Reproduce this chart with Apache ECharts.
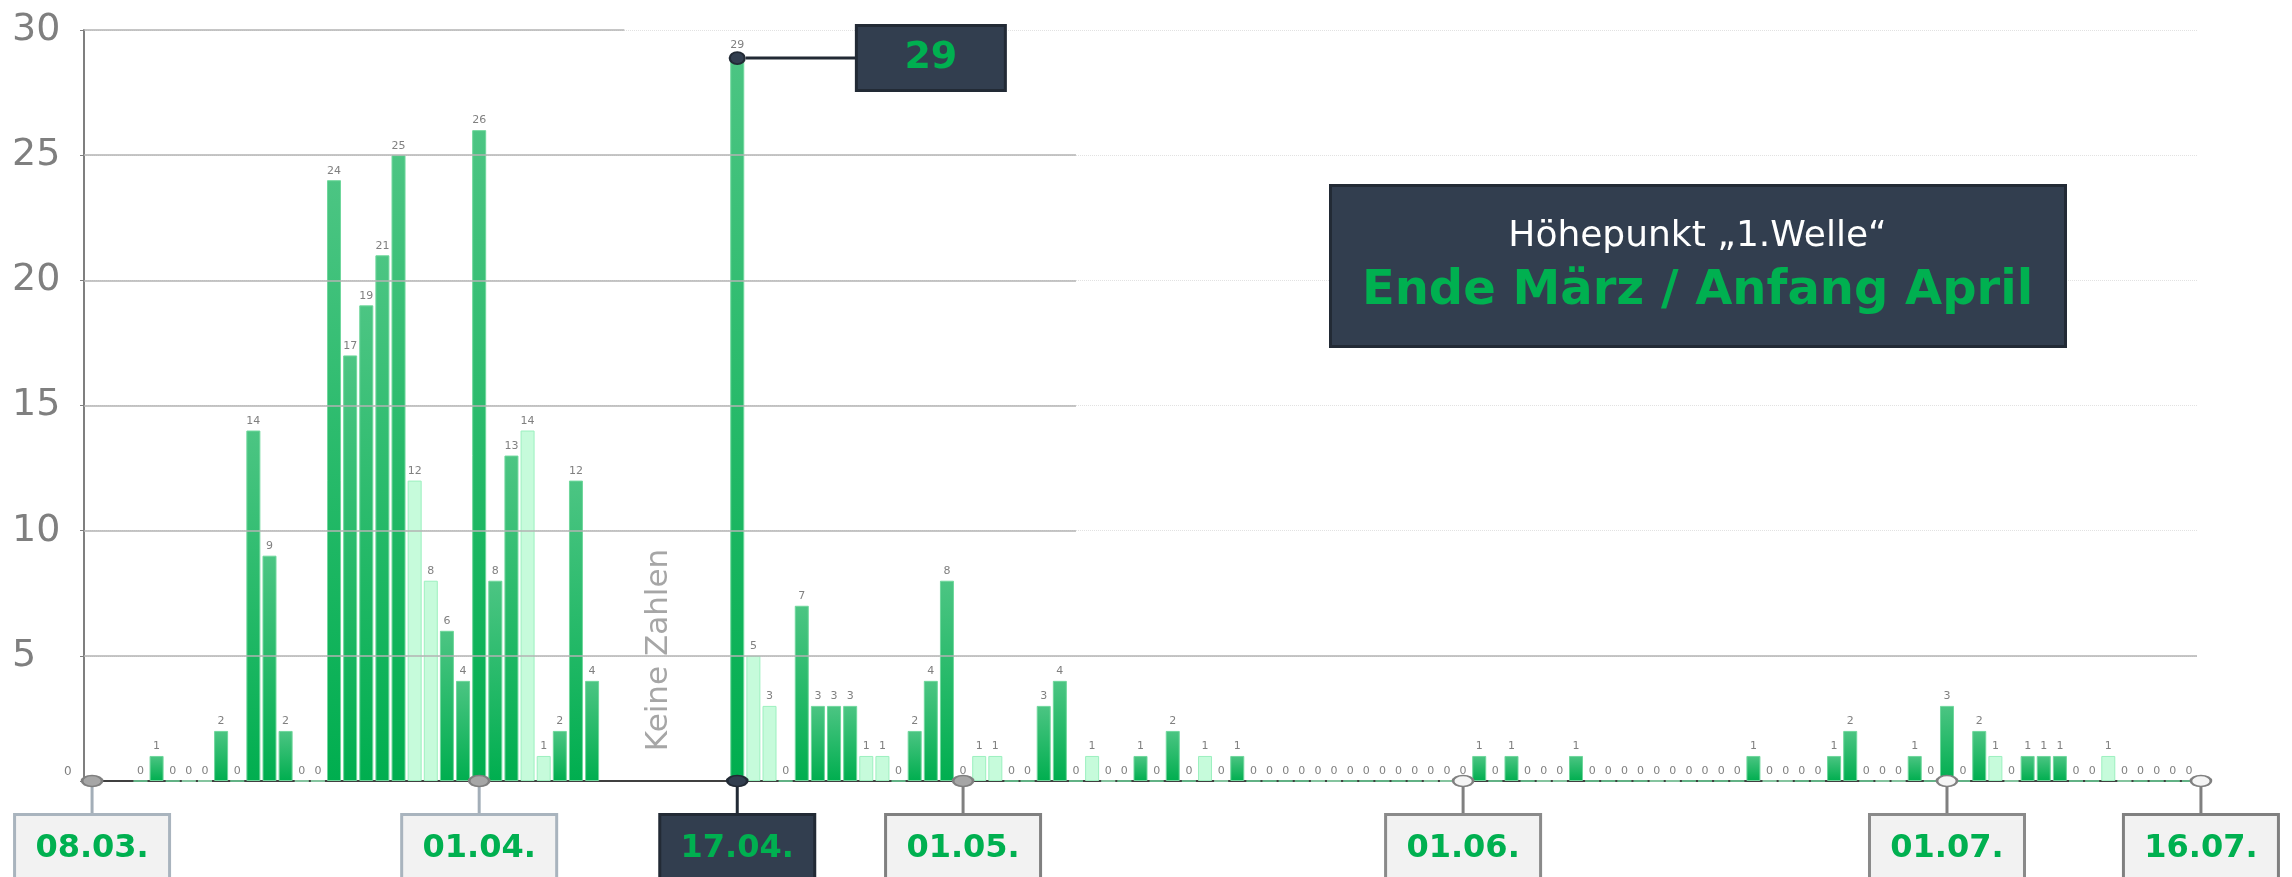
<!DOCTYPE html>
<html>
<head>
<meta charset="utf-8">
<title>Fälle pro Tag</title>
<script src="https://cdn.jsdelivr.net/npm/echarts@6/dist/echarts.min.js"></script>
<style>
  html, body { margin: 0; padding: 0; background: #fff; }
  #chart { width: 2292px; height: 877px; }
</style>
</head>
<body>
<div id="chart"></div>
<script>
// Zeitraum 08.03. - 16.07.2020, ein Balken pro Tag
var START_JAHR = 2020, START_MONAT = 2, START_TAG = 8;
var ANZAHL_TAGE = 131;

// neue Fälle pro Tag, null = keine Zahlen
var faelleMaerz = [null, null, null, 0, 1, 0, 0, 0, 2, 0, 14, 9, 2, 0, 0, 24, 17, 19, 21, 25, 12, 8, 6, 4]; // ab 08.03.
var faelleApril = [26, 8, 13, 14, 1, 2, 12, 4, null, null, null, null, null, null, null, null,
  29, 5, 3, 0, 7, 3, 3, 3, 1, 1, 0, 2, 4, 8];
var faelleMai = [0, 1, 1, 0, 0, 3, 4, 0, 1, 0, 0, 1, 0, 2, 0, 1, 0, 1,
  0, 0, 0, 0, 0, 0, 0, 0, 0, 0, 0, 0, 0];
var faelleJuni = [0, 1, 0, 1, 0, 0, 0, 1, 0, 0, 0, 0, 0, 0, 0, 0, 0, 0,
  1, 0, 0, 0, 0, 1, 2, 0, 0, 0, 1, 0];
var faelleJuli = [3, 0, 2, 1, 0, 1, 1, 1, 0, 0, 1, 0, 0, 0, 0, 0]; // bis 16.07.

// markierte Tage unter der Achse
var stichtage = ['08.03.', '01.04.', '17.04.', '01.05.', '01.06.', '01.07.', '16.07.'];

// durchgezogene Gitterlinien (Rest nur gepunktet)
var gitterWerte = [30, 25, 20, 15, 10, 5];
var gitterBis = ['10.04.', '08.05.', '08.05.', '08.05.', '08.05.', null];

var SCHRIFT = '"DejaVu Sans", Verdana, sans-serif';
var GRUEN = '#00b050';
var DUNKEL = '#323e4f';
var DUNKEL_RAND = '#222a35';
var RAND_LINKS = 84;

var stichtagStil = {
  '08.03.': { punkt: '#a6a6a6', rand: '#7f7f7f', stiel: '#a3aeb8', kasten: '#f2f2f2', kastenRand: '#a9b4be', dx: 0 },
  '01.04.': { punkt: '#a6a6a6', rand: '#7f7f7f', stiel: '#a3aeb8', kasten: '#f2f2f2', kastenRand: '#a9b4be', dx: 0 },
  '17.04.': { punkt: DUNKEL, rand: DUNKEL_RAND, stiel: DUNKEL_RAND, kasten: DUNKEL, kastenRand: DUNKEL_RAND, dx: 0 },
  '01.05.': { punkt: '#a6a6a6', rand: '#7f7f7f', stiel: '#808080', kasten: '#f2f2f2', kastenRand: '#808080', dx: 0 },
  '01.06.': { punkt: '#f5f5f5', rand: '#808080', stiel: '#808080', kasten: '#f2f2f2', kastenRand: '#8a8a8a', dx: 0 },
  '01.07.': { punkt: '#f5f5f5', rand: '#808080', stiel: '#808080', kasten: '#f2f2f2', kastenRand: '#8a8a8a', dx: 0 },
  '16.07.': { punkt: '#f5f5f5', rand: '#808080', stiel: '#808080', kasten: '#f2f2f2', kastenRand: '#808080', dx: 12 }
};

function zweistellig(n) {
  return (n < 10 ? '0' : '') + n;
}

var kategorien = [];
var wochenende = [];
for (var i = 0; i < ANZAHL_TAGE; i++) {
  var d = new Date(START_JAHR, START_MONAT, START_TAG + i);
  kategorien.push(zweistellig(d.getDate()) + '.' + zweistellig(d.getMonth() + 1) + '.');
  wochenende.push(d.getDay() === 0 || d.getDay() === 6);
}
var faelle = faelleMaerz.concat(faelleApril, faelleMai, faelleJuni, faelleJuli);

var stilWerktag = {
  color: {
    type: 'linear', x: 0, y: 0, x2: 0, y2: 1,
    colorStops: [{ offset: 0, color: '#4cc583' }, { offset: 1, color: '#00ae4f' }]
  },
  borderColor: '#6fd79c',
  borderWidth: 1
};
var stilWochenende = {
  color: '#c6fbdb',
  borderColor: '#9cf0bf',
  borderWidth: 1
};

var balkenDaten = faelle.map(function (v, i) {
  if (v === null) return '-';
  return { value: v, itemStyle: wochenende[i] ? stilWochenende : stilWerktag };
});

var gitterLinien = gitterWerte.map(function (w, i) {
  if (gitterBis[i] === null) return { yAxis: w };
  return [{ x: RAND_LINKS, yAxis: w }, { xAxis: gitterBis[i], yAxis: w }];
});

var chart = echarts.init(document.getElementById('chart'));
chart.setOption({
  animation: false,
  backgroundColor: '#ffffff',
  grid: { left: RAND_LINKS, right: 95, top: 30, bottom: 96 },
  xAxis: {
    type: 'category',
    data: kategorien,
    boundaryGap: true,
    axisLine: { lineStyle: { color: '#404040', width: 2 } },
    axisTick: { alignWithLabel: true, interval: 0, length: 6, lineStyle: { color: '#404040', width: 1 } },
    axisLabel: { show: false },
    splitLine: { show: false }
  },
  yAxis: {
    type: 'value',
    min: 0,
    max: 30,
    interval: 5,
    axisLine: { show: true, lineStyle: { color: '#7f7f7f', width: 2 } },
    axisTick: { show: true, length: 4, lineStyle: { color: '#7f7f7f' } },
    axisLabel: {
      margin: 72,
      align: 'left',
      fontSize: 38,
      color: '#7f7f7f',
      fontFamily: SCHRIFT,
      formatter: function (v) {
        return v === 0 ? '{z|0}' : String(v);
      },
      rich: {
        z: { fontSize: 12, color: '#7f7f7f', fontFamily: SCHRIFT, padding: [0, 0, 18, 52] }
      }
    },
    splitLine: { lineStyle: { color: '#e2e2e2', type: 'dotted', width: 1 } }
  },
  series: [
    {
      name: 'Fälle',
      type: 'bar',
      data: balkenDaten,
      barWidth: 14,
      label: {
        show: true,
        position: 'top',
        distance: 4,
        fontSize: 11,
        color: '#808080',
        fontFamily: SCHRIFT
      },
      markLine: {
        silent: true,
        symbol: ['none', 'none'],
        label: { show: false },
        lineStyle: { color: '#b3b3b3', width: 1.5, type: 'solid' },
        data: gitterLinien
      },
      markPoint: {
        symbol: 'circle',
        symbolSize: [15, 12],
        symbolOffset: [0, 3],
        itemStyle: { color: DUNKEL, borderColor: DUNKEL_RAND, borderWidth: 2 },
        label: {
          show: true,
          position: 'right',
          distance: 0,
          formatter: '{l|}{b|{c}}',
          rich: {
            l: { width: 112, height: 3, backgroundColor: DUNKEL_RAND },
            b: {
              width: 146, height: 62, lineHeight: 62, align: 'center',
              backgroundColor: DUNKEL, borderColor: DUNKEL_RAND, borderWidth: 3,
              color: GRUEN, fontSize: 38, fontWeight: 'bold', fontFamily: SCHRIFT
            }
          }
        },
        data: [{ type: 'max', name: 'Höchstwert' }]
      },
      z: 2
    },
    {
      name: 'Stiele',
      type: 'scatter',
      clip: false,
      silent: true,
      symbol: 'rect',
      data: stichtage.map(function (t) {
        var s = stichtagStil[t];
        return {
          value: [t, 0],
          symbolSize: [3, 36],
          symbolOffset: [s.dx, 18],
          itemStyle: { color: s.stiel, opacity: 1 }
        };
      }),
      z: 3
    },
    {
      name: 'Datum',
      type: 'scatter',
      clip: false,
      silent: true,
      symbolSize: 1,
      itemStyle: { color: 'rgba(0,0,0,0)', opacity: 1 },
      data: stichtage.map(function (t) {
        var s = stichtagStil[t];
        return {
          value: [t, 0],
          label: {
            show: true,
            position: 'inside',
            offset: [s.dx, 68],
            formatter: t,
            width: 152,
            height: 66,
            lineHeight: 62,
            align: 'center',
            verticalAlign: 'middle',
            backgroundColor: s.kasten,
            borderColor: s.kastenRand,
            borderWidth: 3,
            color: GRUEN,
            fontSize: 32,
            fontWeight: 'bold',
            fontFamily: SCHRIFT
          }
        };
      }),
      z: 4
    },
    {
      name: 'Stichtage',
      type: 'scatter',
      clip: false,
      silent: true,
      symbol: 'circle',
      data: stichtage.map(function (t) {
        var s = stichtagStil[t];
        return {
          value: [t, 0],
          symbolSize: [20, 11],
          symbolOffset: [s.dx, 0],
          itemStyle: { color: s.punkt, borderColor: s.rand, borderWidth: 2, opacity: 1 }
        };
      }),
      z: 5
    }
  ],
  graphic: [
    {
      type: 'group',
      left: 1329,
      top: 184,
      z: 100,
      children: [
        {
          type: 'rect',
          z: 100,
          shape: { x: 0, y: 0, width: 735, height: 161 },
          style: { fill: DUNKEL, stroke: DUNKEL_RAND, lineWidth: 3 }
        },
        {
          type: 'text',
          z: 101,
          x: 367, y: 51,
          style: {
            text: 'Höhepunkt „1.Welle“',
            fill: '#ffffff',
            fontSize: 36,
            fontFamily: SCHRIFT,
            align: 'center',
            verticalAlign: 'middle'
          }
        },
        {
          type: 'text',
          z: 101,
          x: 367, y: 106,
          style: {
            text: 'Ende März / Anfang April',
            fill: GRUEN,
            fontSize: 48,
            fontWeight: 'bold',
            fontFamily: SCHRIFT,
            align: 'center',
            verticalAlign: 'middle'
          }
        }
      ]
    },
    {
      type: 'text',
      x: 659,
      y: 650,
      rotation: Math.PI / 2,
      style: {
        text: 'Keine Zahlen',
        fill: '#a6a6a6',
        fontSize: 31,
        fontFamily: SCHRIFT,
        align: 'center',
        verticalAlign: 'middle'
      }
    }
  ]
});
</script>
</body>
</html>
